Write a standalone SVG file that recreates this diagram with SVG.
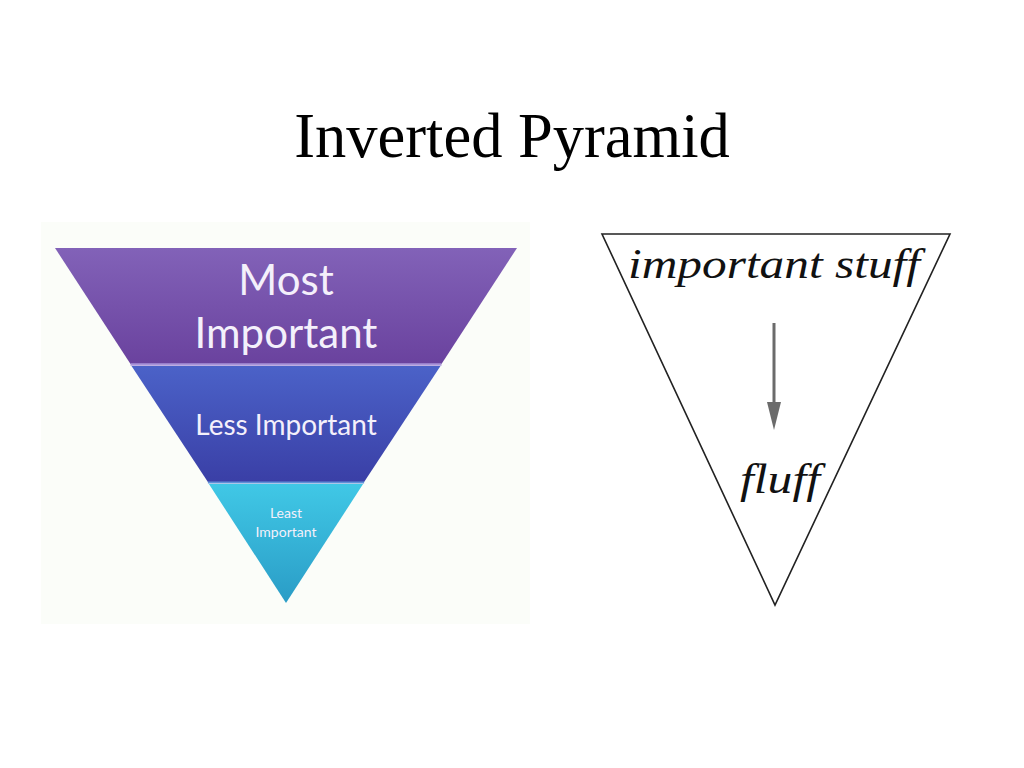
<svg xmlns="http://www.w3.org/2000/svg" width="1024" height="768" viewBox="0 0 1024 768">
<defs>
<style>
.title{font-family:"Liberation Serif","Times New Roman",serif;font-size:62.5px;fill:#000}
.band{font-family:Lato,"Open Sans",sans-serif;fill:#f4f0fb;text-anchor:middle}
.hand{font-family:"Liberation Serif",serif;font-style:italic;fill:#111;text-anchor:middle}
.edge{fill:#fff;stroke:#222;stroke-width:1.6;stroke-linejoin:miter}
</style>
<linearGradient id="gPurple" x1="0" y1="0" x2="0" y2="1">
<stop offset="0" stop-color="#8262b8"/>
<stop offset="1" stop-color="#6a429e"/>
</linearGradient>
<linearGradient id="gBlue" x1="0" y1="0" x2="0" y2="1">
<stop offset="0" stop-color="#4b62c8"/>
<stop offset="1" stop-color="#3a3fa6"/>
</linearGradient>
<linearGradient id="gCyan" x1="0" y1="0" x2="0" y2="1">
<stop offset="0" stop-color="#40c8e6"/>
<stop offset="1" stop-color="#2a9cc6"/>
</linearGradient>
<marker id="arrow" viewBox="0 0 28 14" refX="0" refY="7" markerWidth="28" markerHeight="14" markerUnits="userSpaceOnUse" orient="auto">
<path d="M0,0 L28,7 L0,14 Z" fill="#6b6b6b"/>
</marker>
</defs>
<rect width="1024" height="768" fill="#fff"/>
<text class="title" x="512" y="157" text-anchor="middle">Inverted Pyramid</text>

<g id="left-pyramid">
<rect x="41" y="222" width="489" height="402" fill="#fbfdf9"/>
<g id="most-important">
<polygon points="55,248 517,248 441.5,364 130.5,364" fill="url(#gPurple)"/>
<text class="band" x="286" y="295" font-size="42">Most</text>
<text class="band" x="286" y="348" font-size="42">Important</text>
</g>
<line x1="130.5" y1="364.5" x2="441.5" y2="364.5" stroke="#a893d8" stroke-width="2.5"/>
<g id="less-important">
<polygon points="131.5,366 440.5,366 364.1,482 207.9,482" fill="url(#gBlue)"/>
<text class="band" x="286" y="435" font-size="28">Less Important</text>
</g>
<line x1="207.9" y1="482.5" x2="364.1" y2="482.5" stroke="#5f8fd8" stroke-width="2"/>
<g id="least-important">
<polygon points="208.9,484 363.1,484 286,603" fill="url(#gCyan)"/>
<text class="band" x="286" y="518" font-size="14">Least</text>
<text class="band" x="286" y="537" font-size="14">Important</text>
</g>
</g>

<g id="right-pyramid">
<polygon class="edge" points="602,234 950,234 775,605"/>
<g id="important-stuff">
<text class="hand" x="774" y="278" font-size="42" textLength="292" lengthAdjust="spacingAndGlyphs">important stuff</text>
</g>
<g id="fluff">
<text class="hand" x="780" y="493" font-size="42" textLength="80" lengthAdjust="spacingAndGlyphs">fluff</text>
</g>
</g>

<g id="connectors">
<line x1="774" y1="323" x2="774" y2="402" stroke="#6b6b6b" stroke-width="3" marker-end="url(#arrow)"/>
</g>
</svg>
